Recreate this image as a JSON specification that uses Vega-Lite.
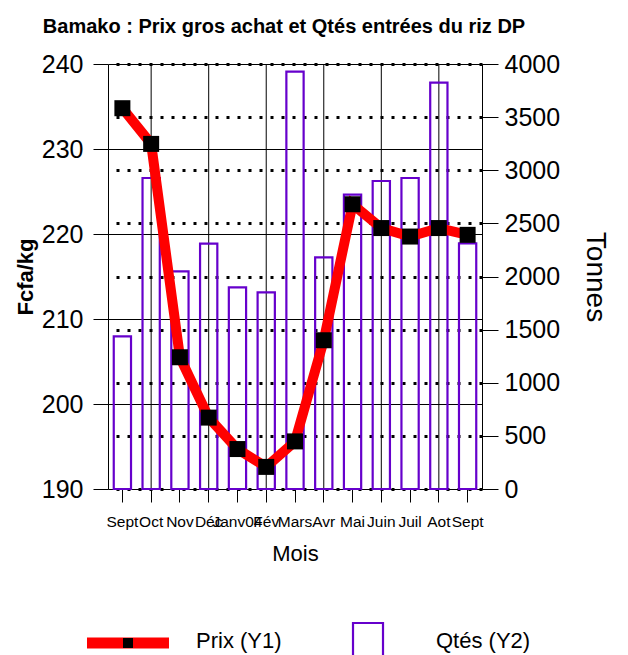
{
  "$schema": "https://vega.github.io/schema/vega-lite/v6.json",
  "padding": {"left": 14, "top": 17, "right": 5, "bottom": 0},
  "spacing": 53,
  "config": {
    "font": "Liberation Sans, Arial, sans-serif",
    "view": {"stroke": null},
    "axis": {"labelColor": "black", "titleColor": "black", "domainColor": "black", "tickColor": "black", "labelFont": "Liberation Sans, Arial, sans-serif", "titleFont": "Liberation Sans, Arial, sans-serif"}
  },
  "vconcat": [
    {
      "width": 374,
      "height": 425,
      "title": {"text": "Bamako : Prix  gros achat et Qtés entrées  du riz DP", "font": "Liberation Sans, Arial, sans-serif", "fontSize": 20, "fontWeight": "bold", "color": "black", "anchor": "middle", "frame": "group", "dx": -11, "offset": 15},
      "data": {"values": [
        {"ordre": 1, "mois": "Sept", "prix": 234.8, "qte": 1437},
        {"ordre": 2, "mois": "Oct", "prix": 230.6, "qte": 2927},
        {"ordre": 3, "mois": "Nov", "prix": 205.5, "qte": 2049},
        {"ordre": 4, "mois": "Déc", "prix": 198.4, "qte": 2310},
        {"ordre": 5, "mois": "Janv04", "prix": 194.7, "qte": 1898},
        {"ordre": 6, "mois": "Fév", "prix": 192.6, "qte": 1851},
        {"ordre": 7, "mois": "Mars", "prix": 195.6, "qte": 3928},
        {"ordre": 8, "mois": "Avr", "prix": 207.5, "qte": 2180},
        {"ordre": 9, "mois": "Mai", "prix": 223.5, "qte": 2770},
        {"ordre": 10, "mois": "Juin", "prix": 220.7, "qte": 2899},
        {"ordre": 11, "mois": "Juil", "prix": 219.7, "qte": 2927},
        {"ordre": 12, "mois": "Aot", "prix": 220.7, "qte": 3824},
        {"ordre": 13, "mois": "Sept", "prix": 219.9, "qte": 2312}
      ]},
      "encoding": {
        "x": {
          "field": "ordre", "type": "ordinal",
          "scale": {"paddingInner": 0.4, "paddingOuter": 0.2},
          "axis": {
            "title": "Mois", "titleFontSize": 22, "titleFontWeight": "normal", "titlePadding": 14,
            "labelExpr": "['Sept','Oct','Nov','Déc','Janv04','Fév','Mars','Avr','Mai','Juin','Juil','Aot','Sept'][datum.value-1]",
            "labelAngle": 0, "labelFontSize": 15.5, "labelOverlap": false, "labelPadding": 12,
            "tickSize": 13, "domain": false, "grid": false
          }
        }
      },
      "layer": [
        {
          "transform": [{"filter": "datum.ordre % 2 == 0"}],
          "mark": {"type": "rule", "color": "black", "strokeWidth": 1},
          "encoding": {}
        },
        {
          "mark": {"type": "bar", "fill": "white", "fillOpacity": 0, "stroke": "#6600cc", "strokeWidth": 2.2},
          "encoding": {
            "y": {
              "field": "qte", "type": "quantitative",
              "scale": {"domain": [0, 4000], "nice": false},
              "axis": {
                "orient": "right", "title": "Tonnes", "titleFontSize": 28, "titleFontWeight": "normal", "titlePadding": 21,
                "values": [0, 500, 1000, 1500, 2000, 2500, 3000, 3500, 4000], "format": "d",
                "labelFontSize": 25, "labelPadding": 6, "tickSize": 16,
                "grid": true, "gridColor": "black", "gridDash": [3, 8], "gridWidth": 3, "gridOpacity": 1
              }
            }
          }
        },
        {
          "encoding": {
            "y": {
              "field": "prix", "type": "quantitative",
              "scale": {"domain": [190, 240], "zero": false, "nice": false},
              "axis": {
                "orient": "left", "title": "Fcfa/kg", "titleFontSize": 22, "titleFontWeight": "bold", "titlePadding": 4,
                "values": [190, 200, 210, 220, 230, 240],
                "labelFontSize": 25, "labelPadding": 10, "tickSize": 15,
                "grid": true, "gridColor": "black", "gridWidth": 1, "gridOpacity": 1
              }
            }
          },
          "layer": [
            {"mark": {"type": "line", "color": "red", "strokeWidth": 10}},
            {"mark": {"type": "point", "shape": "square", "filled": true, "color": "black", "size": 256, "opacity": 1}}
          ]
        }
      ],
      "resolve": {"scale": {"y": "independent"}}
    },
    {
      "width": 280,
      "height": 40,
      "data": {"values": [{"serie": "Prix (Y1)"}, {"serie": "Qtés (Y2)"}]},
      "encoding": {
        "x": {"field": "serie", "type": "nominal", "scale": {"type": "point", "padding": 0.0833}, "axis": null}
      },
      "layer": [
        {
          "transform": [{"filter": "datum.serie == 'Prix (Y1)'"}],
          "mark": {"type": "point", "shape": "M-1,-0.134L1,-0.134L1,0.134L-1,0.134Z", "filled": true, "color": "red", "size": 6724, "opacity": 1}
        },
        {
          "transform": [{"filter": "datum.serie == 'Prix (Y1)'"}],
          "mark": {"type": "point", "shape": "square", "filled": true, "color": "black", "size": 100, "opacity": 1}
        },
        {
          "transform": [{"filter": "datum.serie == 'Qtés (Y2)'"}],
          "mark": {"type": "point", "shape": "M-0.75,-1L0.75,-1L0.75,1L-0.75,1Z", "filled": false, "stroke": "#6600cc", "strokeWidth": 2.2, "size": 1600, "opacity": 1}
        },
        {
          "mark": {"type": "text", "align": "left", "baseline": "middle", "dx": 68, "dy": -2, "fontSize": 22, "color": "black"},
          "encoding": {"text": {"field": "serie"}}
        }
      ]
    }
  ]
}
